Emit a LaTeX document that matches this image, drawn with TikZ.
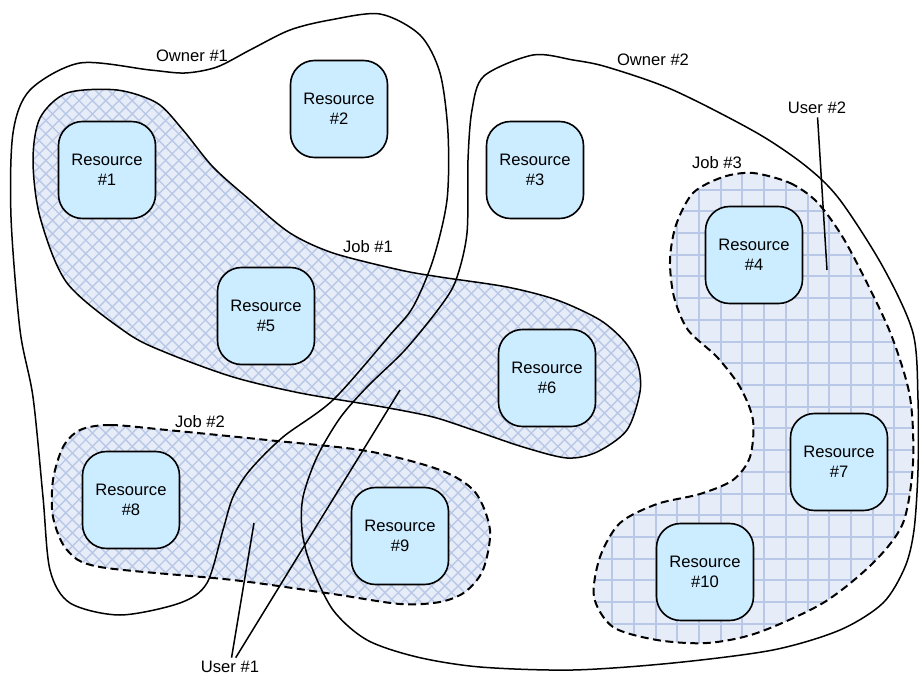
\documentclass[tikz,border=0pt]{standalone}
\usepackage{fontspec}
\setmainfont{Liberation Sans}
\definecolor{resfill}{RGB}{204,236,255}
\definecolor{hatchbg}{RGB}{231,237,248}
\definecolor{hatchln}{RGB}{184,200,230}

\begin{document}
\begin{tikzpicture}[x=1pt,y=-1pt,
  txt/.style={font=\fontsize{16.6}{20}\selectfont},
  res/.style={txt,draw,line width=1.6pt,fill=resfill,rounded corners=24pt,
    minimum width=97pt,minimum height=97pt,align=center},
  outline/.style={line width=1.5pt},
  dashline/.style={line width=2pt,dash pattern=on 8pt off 4.5pt},
  hatchline/.style={hatchln,line width=1.4pt},
  gridline/.style={hatchln,line width=2pt}]
\useasboundingbox (0,0) rectangle (919,676);

% job outlines, kept for clipping
\path[save path=\jobone] plot[smooth cycle] coordinates {(67,93) (117,90) (157,103) (183,130)
  (213,167) (250,200) (290,233) (333,253) (400,270) (440,277) (507,287) (557,300) (600,320)
  (625,342) (638,365) (640,392) (627,430) (597,452) (567,458) (523,447) (473,430) (433,417)
  (383,407) (300,393) (233,377) (167,353) (127,333) (67,283) (40,217) (33,160) (40,118)};
\path[save path=\jobtwo] plot[smooth cycle] coordinates {(80,430) (110,425) (167,430) (267,440)
  (367,451) (440,470) (475,492) (490,530) (483,570) (465,592) (440,602) (400,604) (333,594)
  (233,580) (100,567) (67,550) (53,517) (53,480) (63,447)};
\path[save path=\jobthree] plot[smooth cycle] coordinates {(753,173) (790,183) (817,202) (842,236)
  (867,283) (892,337) (910,397) (913,463) (903,523) (873,563) (823,603) (757,633) (707,643)
  (657,640) (613,627) (594,597) (600,557) (620,523) (657,504) (700,494) (733,480) (750,457)
  (753,420) (740,387) (717,357) (688,330) (674,297) (670,260) (676,225) (693,193) (723,177)};

% diagonal lattice, jobs 1 and 2
\begin{scope}
  \clip[use path=\jobone];
  \fill[hatchbg] (0,0) rectangle (919,676);
  \foreach \c in {-620,-606.7,...,600} \draw[hatchline] (\c,0) -- ++(700,700);
  \foreach \c in {60,73.3,...,1280} \draw[hatchline] (\c,0) -- ++(-700,700);
\end{scope}
\begin{scope}
  \clip[use path=\jobtwo];
  \fill[hatchbg] (0,0) rectangle (919,676);
  \foreach \c in {-620,-606.7,...,600} \draw[hatchline] (\c,0) -- ++(700,700);
  \foreach \c in {60,73.3,...,1280} \draw[hatchline] (\c,0) -- ++(-700,700);
\end{scope}
% square grid, job 3
\begin{scope}
  \clip[use path=\jobthree];
  \fill[hatchbg] (0,0) rectangle (919,676);
  \foreach \x in {590.5,612.2,...,920} \draw[gridline] (\x,160) -- (\x,650);
  \foreach \y in {168,189.7,...,650} \draw[gridline] (580,\y) -- (919,\y);
\end{scope}
\draw[outline,use path=\jobone];
\draw[dashline,use path=\jobtwo];
\draw[dashline,use path=\jobthree];

% owners
\draw[outline] plot[smooth cycle] coordinates {(80,63) (150,70) (185,73) (217,67) (250,50)
  (290,30) (330,20) (380,14) (420,35) (440,73) (448,133) (447,200) (433,260) (413,307)
  (390,335) (333,400) (283,437) (250,470) (233,497) (223,530) (207,583) (180,603) (120,615)
  (70,603) (50,570) (43,497) (33,397) (20,330) (11,217) (13,133) (30,90)};
\draw[outline] plot[smooth cycle] coordinates {(533,55) (573,60) (607,67) (673,90) (757,133)
  (807,167) (840,200) (883,267) (913,333) (918,400) (918,470) (914,530) (905,567) (883,603)
  (840,630) (773,650) (673,663) (573,670) (480,667) (417,657) (367,640) (333,610) (310,563)
  (302,530) (303,497) (317,457) (340,418) (367,387) (405,350) (440,307) (456,280) (467,233)
  (468,160) (472,110) (484,76)};

% resources
\node[res] (r1) at (107,170) {Resource\\\#1};
\node[res] (r2) at (339,109) {Resource\\\#2};
\node[res] (r3) at (535,170) {Resource\\\#3};
\node[res] (r4) at (754,255) {Resource\\\#4};
\node[res] (r5) at (266,316) {Resource\\\#5};
\node[res] (r6) at (547,378) {Resource\\\#6};
\node[res] (r7) at (839,462) {Resource\\\#7};
\node[res] (r8) at (131,500) {Resource\\\#8};
\node[res] (r9) at (400,536) {Resource\\\#9};
\node[res] (r10) at (705,572) {Resource\\\#10};

% labels
\node[txt] (owner1) at (192,56) {Owner \#1};
\node[txt] (owner2) at (653,60) {Owner \#2};
\node[txt] (job1) at (368,247) {Job \#1};
\node[txt] (job2) at (200,422) {Job \#2};
\node[txt] (job3) at (717,163) {Job \#3};
\node[txt] (user1) at (230,667) {User \#1};
\node[txt] (user2) at (817,108) {User \#2};

% user pointers
\coordinate (u1a) at (254,523);
\coordinate (u1b) at (400,390);
\coordinate (u2a) at (827,270);
\draw[outline] (user1) -- (u1a);
\draw[outline] (user1) -- (u1b);
\draw[outline] (user2) -- (u2a);
\end{tikzpicture}
\end{document}
